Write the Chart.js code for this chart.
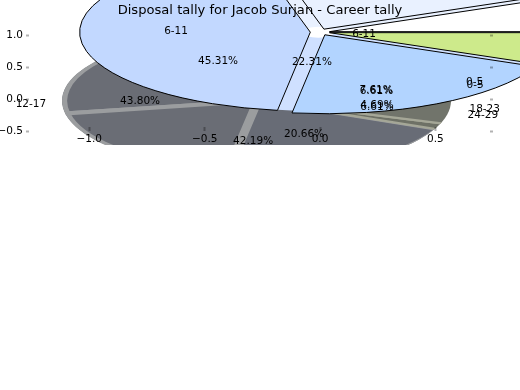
<!DOCTYPE html>
<html>
<head>
<meta charset="utf-8">
<title>Disposal tally</title>
<script src="https://cdn.jsdelivr.net/npm/chart.js@4/dist/chart.umd.js"></script>
<style>
  html, body { margin: 0; padding: 0; background: #fff; }
  canvas { display: block; }
</style>
</head>
<body>
<canvas id="pieChart" width="520" height="390"></canvas>
<script>
const chartTitle = 'Disposal tally for Jacob Surjan - Career tally';

// front pie, counter-clockwise from 3 o'clock
const frontValues = [6.61, 22.31, 43.80, 20.66, 6.61];
const frontColors = ['#ffffff', '#e9f1ff', '#c2d8ff', '#b2d4ff', '#cdea8b'];

// pale layer that shows through the gaps of the front pie, white in the middle
const hubValues = [100];
const hubColors = ['#ffffff'];
const backingValues = [50, 50];
const backingColors = ['#e9f1ff', '#cfe0ff'];

// grey pie behind
const shadowValues = [7.61, 45.31, 19.7, 20.66, 1.4, 5.32];
const shadowColors = ['#6a6d75', '#6a6d75', '#6a6d75', '#686c76', '#6e7166', '#71746b'];
const shadowEdges = ['#9b9d9f', '#9b9d9f', '#9b9d9f', '#9b9d9f', '#a5a797', '#a5a797'];
const shadowEdgeWidths = [5.5, 5.5, 5.5, 4, 3, 3];

const xTicks = [-1.0, -0.5, 0.0, 0.5];
const yTicks = [-0.5, 0.0, 0.5, 1.0];

// text placed on the axes, [text, x, y] in axis units
const pieLabels = [
    ['6-11', -0.624, 1.076],
    ['45.31%', -0.442, 0.594],
    ['22.31%', -0.035, 0.578],
    ['6-11', 0.191, 1.03],
    ['0-5', 0.67, 0.266],
    ['0-5', 0.672, 0.22],
    ['7.61%', 0.243, 0.141],
    ['6.61%', 0.245, 0.135],
    ['4.69%', 0.247, -0.094],
    ['6.61%', 0.247, -0.125],
    ['18-23', 0.714, -0.156],
    ['24-29', 0.706, -0.25],
    ['12-17', -1.253, -0.063],
    ['43.80%', -0.78, -0.031],
    ['42.19%', -0.29, -0.656],
    ['20.66%', -0.069, -0.547]
];

// ellipse of each dataset, in axis units
const frontPie = {
    cx: -0.007, cy: 1.056, rx: 1.0, ry: 1.234,
    // how far each slice sits off the centre, as a share of the radius
    shiftX: [0.048, 0.024, -0.035, 0.028, 0.048],
    shiftY: [0.0063, 0.038, 0, -0.033, -0.0063]
};
const hubPie = { cx: -0.007, cy: 1.056, rx: 0.07, ry: 0.086 };
const backingPie = { cx: -0.007, cy: 1.056, rx: 1.0, ry: 1.234 };
const shadowPie = { cx: -0.2666, cy: -0.016, rx: 0.853, ry: 1.09 };
const shadowOutline = { cx: -0.2752, cy: -0.016, rx: 0.843, ry: 1.1 };

const baseRadius = 100;
const FONT = 'DejaVu Sans';

function placePie(chart, pie) {
    const { x, y } = chart.scales;
    const ctx = chart.ctx;
    ctx.translate(x.getPixelForValue(pie.cx), y.getPixelForValue(pie.cy));
    ctx.scale(
        (x.getPixelForValue(pie.rx) - x.getPixelForValue(0)) / baseRadius,
        (y.getPixelForValue(pie.ry) - y.getPixelForValue(0)) / baseRadius
    );
}

const squashedPies = {
    id: 'squashedPies',
    afterDatasetsUpdate(chart) {
        chart.data.datasets.forEach((ds, i) => {
            chart.getDatasetMeta(i).data.forEach((arc, j) => {
                arc.x = (ds.pie.shiftX ? ds.pie.shiftX[j] : 0) * baseRadius;
                // y axis runs up, the squash flips it
                arc.y = (ds.pie.shiftY ? ds.pie.shiftY[j] : 0) * baseRadius;
                arc.outerRadius = baseRadius;
                arc.innerRadius = 0;
            });
        });
    },
    beforeDatasetDraw(chart, args) {
        const ctx = chart.ctx;
        const ds = chart.data.datasets[args.index];
        ctx.save();
        if (ds.clipTo) {
            const a = chart.chartArea;
            ctx.beginPath();
            ctx.rect(a.left, a.top, a.right - a.left, a.bottom - a.top);
            ctx.clip();
            // the wide edges should not stick out past this ellipse
            ctx.save();
            placePie(chart, ds.clipTo);
            ctx.beginPath();
            ctx.arc(0, 0, baseRadius, 0, Math.PI * 2);
            ctx.restore();
            ctx.clip();
        }
        placePie(chart, ds.pie);
    },
    afterDatasetDraw(chart, args) {
        const ctx = chart.ctx;
        const ds = chart.data.datasets[args.index];
        ctx.restore();
        if (!ds.outlined) return;
        // thin even outline, so path under the squash and stroke without it
        args.meta.data.forEach((arc) => {
            ctx.save();
            placePie(chart, ds.pie);
            ctx.beginPath();
            ctx.moveTo(arc.x, arc.y);
            ctx.arc(arc.x, arc.y, arc.outerRadius, arc.startAngle, arc.endAngle);
            ctx.closePath();
            ctx.restore();
            ctx.lineWidth = 1;
            ctx.strokeStyle = '#000';
            ctx.stroke();
        });
    },
    afterDraw(chart) {
        const { ctx, scales } = chart;
        ctx.save();
        ctx.fillStyle = '#000';
        ctx.textAlign = 'center';
        ctx.textBaseline = 'middle';
        ctx.font = '10.5px "' + FONT + '"';
        pieLabels.forEach(([text, x, y]) => {
            ctx.fillText(text, scales.x.getPixelForValue(x), scales.y.getPixelForValue(y));
        });
        ctx.font = '13.1px "' + FONT + '"';
        ctx.fillText(chartTitle, chart.width / 2, 11);
        ctx.restore();
    }
};

function tickText(v) {
    return (v < 0 ? '\u2212' : '') + Math.abs(v).toFixed(1);
}

function axisBase(values, tickLength) {
    return {
        type: 'linear',
        border: { display: false },
        grid: {
            drawOnChartArea: false,
            drawTicks: true,
            tickLength: tickLength,
            tickWidth: 2,
            tickColor: 'rgba(0,0,0,0.3)',
            z: 1
        },
        afterBuildTicks: (s) => { s.ticks = values.map((value) => ({ value })); }
    };
}

const tickFont = { family: FONT, size: 10.5 };

new Chart(document.getElementById('pieChart').getContext('2d'), {
    type: 'pie',
    data: {
        datasets: [{
            data: frontValues,
            backgroundColor: frontColors,
            borderWidth: 0,
            rotation: 90,
            clip: false,
            pie: frontPie,
            outlined: true
        }, {
            data: hubValues,
            backgroundColor: hubColors,
            borderWidth: 0,
            rotation: 90,
            clip: false,
            pie: hubPie
        }, {
            data: backingValues,
            backgroundColor: backingColors,
            borderWidth: 0,
            rotation: 90,
            clip: false,
            pie: backingPie
        }, {
            data: shadowValues,
            backgroundColor: shadowColors,
            borderColor: shadowEdges,
            borderWidth: shadowEdgeWidths,
            rotation: 90,
            clip: false,
            pie: shadowPie,
            clipTo: shadowOutline
        }]
    },
    plugins: [squashedPies],
    options: {
        responsive: false,
        animation: false,
        events: [],
        layout: { padding: { top: 20, bottom: 245 } },
        plugins: { legend: { display: false }, tooltip: { enabled: false } },
        scales: {
            x: {
                ...axisBase(xTicks, 4),
                position: { y: -0.42 },
                min: -1.2614,
                max: 0.7369,
                ticks: { z: 1, color: '#000', font: tickFont, padding: 2, maxRotation: 0, callback: tickText }
            },
            y: {
                ...axisBase(yTicks, 3),
                position: 'left',
                min: -0.707,
                max: 1.246,
                afterFit: (s) => { s.width = 29; },
                ticks: { z: 1, color: '#000', font: tickFont, padding: 3, callback: tickText }
            },
            y2: {
                ...axisBase(yTicks, 3),
                position: 'right',
                min: -0.707,
                max: 1.246,
                afterFit: (s) => { s.width = 30; },
                ticks: { z: 1, color: 'rgba(0,0,0,0)', font: tickFont, callback: () => '' }
            }
        }
    }
});
</script>
</body>
</html>
